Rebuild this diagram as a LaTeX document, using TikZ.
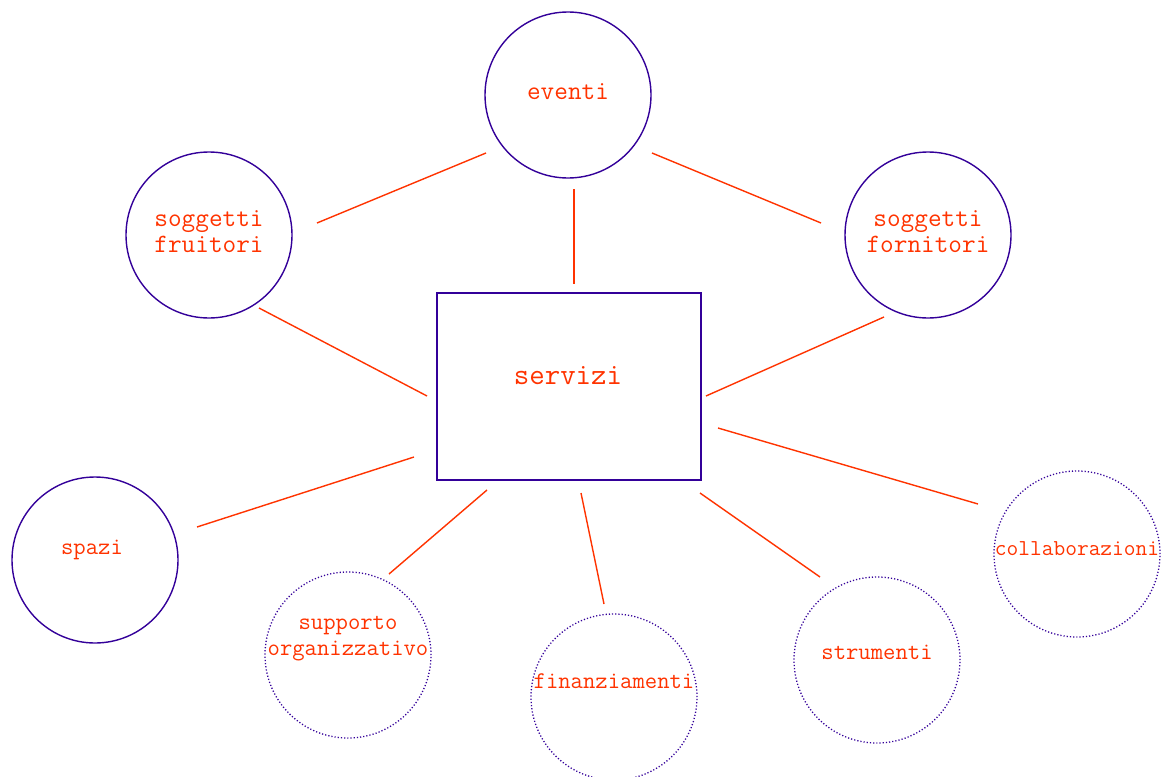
\documentclass[tikz,border=0pt]{standalone}
\definecolor{ringcol}{HTML}{330099}
\definecolor{linkcol}{HTML}{FF3300}
\begin{document}
\begin{tikzpicture}[x=1pt,y=-1pt,
  ring/.style={circle,draw=ringcol,line width=1.4pt,minimum size=166pt,inner sep=0pt},
  dotring/.style={ring,line width=1.3pt,dash pattern=on 1.2pt off 2pt},
  midlab/.style={text=linkcol,font=\ttfamily\fontsize{26.5}{26}\selectfont,align=center,inner sep=0pt},
  smalllab/.style={text=linkcol,font=\ttfamily\fontsize{24}{26}\selectfont,align=center,inner sep=0pt},
  link/.style={draw=linkcol,line width=1.4pt}]
\useasboundingbox (0,0) rectangle (1161,776);
% circles
\node[ring] (ev) at (568,95) {};
\node[ring] (fr) at (209,235) {};
\node[ring] (fo) at (928,235) {};
\node[ring] (sp) at (95,560) {};
\node[dotring] (su) at (348,655) {};
\node[dotring] (fi) at (614,697) {};
\node[dotring] (st) at (877,660) {};
\node[dotring] (co) at (1077,554) {};
% box
\node[draw=ringcol,line width=1.4pt,minimum width=264pt,minimum height=187pt,inner sep=0pt] (se) at (569,386.5) {};
% labels
\node[midlab] (evt) at (568,92) {eventi};
\node[midlab] (frt) at (209,232) {soggetti\\fruitori};
\node[midlab] (fot) at (928,232) {soggetti\\fornitori};
\node[text=linkcol,font=\ttfamily\fontsize{30}{30}\selectfont,inner sep=0pt] (set) at (568,376) {servizi};
\node[smalllab] (spt) at (92,550) {spazi};
\node[smalllab] (sut) at (348,639) {supporto\\organizzativo};
\node[smalllab] (fit) at (614,681) {finanziamenti};
\node[smalllab] (stt) at (877,652) {strumenti};
\node[smalllab,font=\ttfamily\fontsize{22.8}{26}\selectfont] (cot) at (1077,549) {collaborazioni};
% connector ends
\coordinate (a1) at (486,153); \coordinate (b1) at (317,223);
\coordinate (a2) at (652,153); \coordinate (b2) at (821,223);
\coordinate (a3) at (574,189); \coordinate (b3) at (574,284);
\coordinate (a4) at (259,308); \coordinate (b4) at (427,396);
\coordinate (a5) at (884,317); \coordinate (b5) at (706,396);
\coordinate (a6) at (414,457); \coordinate (b6) at (197,527);
\coordinate (a7) at (487,490); \coordinate (b7) at (389,574);
\coordinate (a8) at (581,493); \coordinate (b8) at (604,604);
\coordinate (a9) at (700,493); \coordinate (b9) at (820,577);
\coordinate (a10) at (718,428); \coordinate (b10) at (978,504);
\foreach \i in {1,...,10} {\draw[link] (a\i) -- (b\i);}
\end{tikzpicture}
\end{document}
